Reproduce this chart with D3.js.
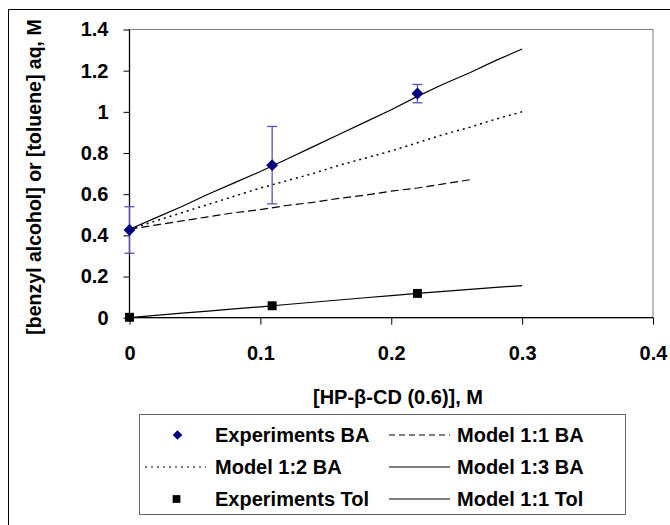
<!DOCTYPE html>
<html lang="en">
<head>
  <meta charset="UTF-8">
  <title>Benzyl alcohol / toluene solubility</title>
  <script src="https://d3js.org/d3.v7.min.js"></script>
  <style>
    body { margin: 0; background: #fff; }
    svg { display: block; font-family: "Liberation Sans", Arial, sans-serif; font-weight: bold; }
  </style>
</head>
<body>
  <svg id="chart" width="670" height="525"></svg>

  <script>
    // Data
    const modelX = [0, 0.02, 0.04, 0.06, 0.08, 0.10, 0.12, 0.14, 0.16, 0.18, 0.20, 0.22, 0.24, 0.26, 0.28, 0.30];
    const model13BA = [0.43, 0.485, 0.54, 0.60, 0.655, 0.71, 0.77, 0.83, 0.89, 0.95, 1.01, 1.075, 1.135, 1.19, 1.25, 1.305];
    const model12BA = [0.43, 0.47, 0.51, 0.55, 0.59, 0.63, 0.665, 0.70, 0.74, 0.775, 0.81, 0.85, 0.89, 0.925, 0.965, 1.0];
    const model11BA = [0.43, 0.45, 0.47, 0.49, 0.51, 0.525, 0.545, 0.56, 0.58, 0.595, 0.615, 0.63, 0.65, 0.67];
    const model11Tol = [0, 0.011, 0.022, 0.032, 0.043, 0.053, 0.064, 0.075, 0.086, 0.097, 0.107, 0.118, 0.128, 0.138, 0.147, 0.156];

    const expX = [0, 0.109, 0.22];
    const expBA = [0.426, 0.741, 1.089];
    const expBAlow = [0.313, 0.553, 1.044];
    const expBAhigh = [0.539, 0.929, 1.133];
    const expTol = [0.002, 0.058, 0.118];

    const xTicks = [0, 0.1, 0.2, 0.3, 0.4];
    const yTicks = [0, 0.2, 0.4, 0.6, 0.8, 1, 1.2, 1.4];

    const svg = d3.select("#chart");

    // outer frame
    svg.append("rect")
       .attr("x", 8.5).attr("y", 9.5)
       .attr("width", 680).attr("height", 540)
       .attr("fill", "none").attr("stroke", "#000").attr("stroke-width", 1);

    const x = d3.scaleLinear().domain([0, 0.4]).range([129.5, 653]);
    const y = d3.scaleLinear().domain([0, 1.4]).range([317.7, 29.5]);

    // plot area box (gray)
    svg.append("rect")
       .attr("x", x(0)).attr("y", y(1.4))
       .attr("width", x(0.4) - x(0)).attr("height", y(0) - y(1.4))
       .attr("fill", "none").attr("stroke", "#808080").attr("stroke-width", 1);

    // axes
    const xAxis = svg.append("g")
       .attr("transform", `translate(0,${y(0)})`)
       .call(d3.axisBottom(x).tickValues(xTicks).tickSize(7).tickPadding(21)
             .tickFormat(d => d === 0 ? "0" : d3.format(".1f")(d)));
    const yAxis = svg.append("g")
       .attr("transform", `translate(${x(0)},0)`)
       .call(d3.axisLeft(y).tickValues(yTicks).tickSize(6).tickPadding(15)
             .tickFormat(d => d === 0 || d === 1 ? String(d) : d3.format(".1f")(d)));
    [xAxis, yAxis].forEach(a => {
      a.attr("font-size", null).attr("font-family", null);
      a.select(".domain").attr("stroke", "#000").attr("stroke-width", 1.3);
      a.selectAll(".tick line").attr("stroke", "#000");
      a.selectAll("text").style("font-size", "20px").style("font-weight", "bold")
       .attr("fill", "#000");
    });
    xAxis.select(".domain").attr("d", `M${x(0)},0H${x(0.4)}`);
    yAxis.select(".domain").attr("d", `M0,${y(0)}V${y(1.4)}`);

    // axis titles
    svg.append("text")
       .attr("x", 398).attr("y", 404)
       .attr("text-anchor", "middle").style("font-size", "20px")
       .text("[HP-β-CD (0.6)], M");
    svg.append("text")
       .attr("transform", "translate(41,177) rotate(-90)")
       .attr("text-anchor", "middle").style("font-size", "19.5px")
       .text("[benzyl alcohol] or [toluene] aq, M");

    const line = d3.line().x(d => x(d[0])).y(d => y(d[1]));
    const pairs = ys => ys.map((v, i) => [modelX[i], v]);

    const series = [
      { data: model11BA, dash: "8,4", w: 1.2 },
      { data: model12BA, dash: "2,4", w: 1.5 },
      { data: model13BA, dash: null, w: 1.2 },
      { data: model11Tol, dash: null, w: 1.2 }
    ];
    series.forEach(s => {
      svg.append("path")
         .attr("d", line(pairs(s.data)))
         .attr("fill", "none").attr("stroke", "#000").attr("stroke-width", s.w)
         .attr("stroke-dasharray", s.dash);
    });

    // error bars
    const errColor = "#5555b0";
    expX.forEach((xv, i) => {
      const g = svg.append("g").attr("stroke", errColor).attr("stroke-width", 1.3);
      g.append("line").attr("x1", x(xv)).attr("x2", x(xv)).attr("y1", y(expBAlow[i])).attr("y2", y(expBAhigh[i]));
      [expBAlow[i], expBAhigh[i]].forEach(v => {
        g.append("line").attr("x1", x(xv) - 5).attr("x2", x(xv) + 5).attr("y1", y(v)).attr("y2", y(v));
      });
    });

    const diamond = d3.symbol().type(d3.symbolDiamond2).size(90);
    const square = d3.symbol().type(d3.symbolSquare).size(80);

    expX.forEach((xv, i) => {
      svg.append("path").attr("d", diamond())
         .attr("transform", `translate(${x(xv)},${y(expBA[i])})`)
         .attr("fill", "#000080");
      svg.append("path").attr("d", square())
         .attr("transform", `translate(${x(xv)},${y(expTol[i])})`)
         .attr("fill", "#000");
    });

    // legend
    const legend = svg.append("g");
    legend.append("rect")
       .attr("x", 139.5).attr("y", 414.5).attr("width", 486).attr("height", 100)
       .attr("fill", "#fff").attr("stroke", "#666").attr("stroke-width", 1);

    const legendItems = [
      { col: 0, row: 0, label: "Experiments BA", kind: "diamond" },
      { col: 1, row: 0, label: "Model 1:1 BA", kind: "line", dash: "6,4" },
      { col: 0, row: 1, label: "Model 1:2 BA", kind: "line", dash: "2,4" },
      { col: 1, row: 1, label: "Model 1:3 BA", kind: "line", dash: null },
      { col: 0, row: 2, label: "Experiments Tol", kind: "square" },
      { col: 1, row: 2, label: "Model 1:1 Tol", kind: "line", dash: null }
    ];
    const colSample = [[145, 206], [389, 450]];
    const colText = [215, 457];
    const rowY = [435, 467, 499];

    legendItems.forEach(it => {
      const [a, b] = colSample[it.col];
      const cy = rowY[it.row];
      if (it.kind === "line") {
        legend.append("line").attr("x1", a).attr("x2", b).attr("y1", cy).attr("y2", cy)
           .attr("stroke", "#000").attr("stroke-width", 1.2).attr("stroke-dasharray", it.dash);
      } else if (it.kind === "diamond") {
        legend.append("path").attr("d", d3.symbol().type(d3.symbolDiamond2).size(60)())
           .attr("transform", `translate(${(a + b) / 2 + 2},${cy})`).attr("fill", "#000080");
      } else {
        legend.append("path").attr("d", d3.symbol().type(d3.symbolSquare).size(60)())
           .attr("transform", `translate(${(a + b) / 2 + 1},${cy})`).attr("fill", "#000");
      }
      legend.append("text")
         .attr("x", colText[it.col]).attr("y", cy + 7)
         .style("font-size", "20px")
         .text(it.label);
    });
  </script>
</body>
</html>
